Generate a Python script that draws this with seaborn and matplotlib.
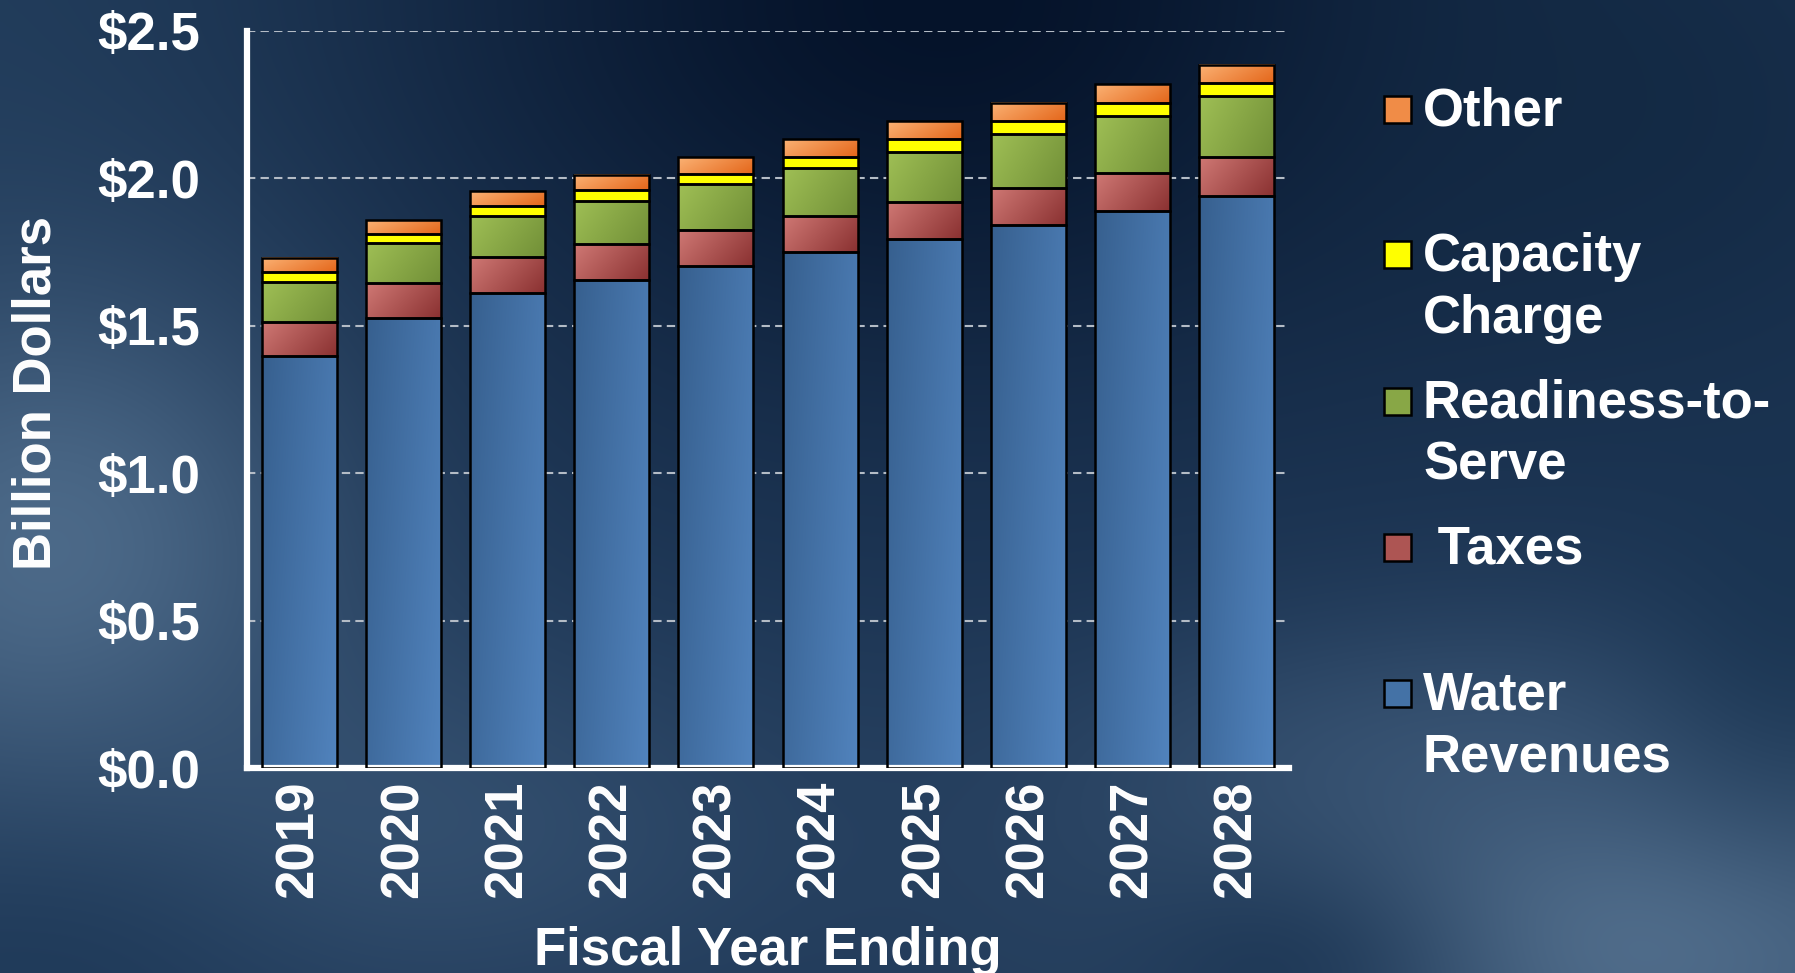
import numpy as np
import pandas as pd
import seaborn as sns
import matplotlib.pyplot as plt
from matplotlib.colors import LinearSegmentedColormap, to_rgb
from matplotlib.patches import Rectangle

sns.set_theme(style="white")
plt.rcParams["font.family"] = ["Liberation Sans", "DejaVu Sans"]
plt.rcParams["font.weight"] = "bold"
plt.rcParams["axes.labelweight"] = "bold"

# data (billion dollars)
years = ["2019", "2020", "2021", "2022", "2023", "2024", "2025", "2026", "2027", "2028"]
water = [1.396, 1.527, 1.612, 1.655, 1.703, 1.748, 1.793, 1.842, 1.889, 1.940]
taxes = [0.116, 0.117, 0.119, 0.120, 0.121, 0.124, 0.126, 0.126, 0.128, 0.130]
readiness = [0.135, 0.136, 0.140, 0.148, 0.155, 0.161, 0.170, 0.182, 0.195, 0.207]
capacity = [0.035, 0.032, 0.034, 0.035, 0.036, 0.039, 0.042, 0.042, 0.044, 0.045]
other = [0.048, 0.047, 0.050, 0.053, 0.055, 0.059, 0.061, 0.062, 0.062, 0.063]

# bottom to top: column, values, gradient start/end colour, legend lines
series = [
    ("Water Revenues", water, "#37608f", "#5183bd", ["Water", "Revenues"]),
    ("Taxes", taxes, "#cf7874", "#8a3131", [" Taxes"]),
    ("Readiness-to-Serve", readiness, "#9fbf55", "#718f37", ["Readiness-to-", "Serve"]),
    ("Capacity Charge", capacity, "#ffff00", "#ffff00", ["Capacity", "Charge"]),
    ("Other", other, "#fbb274", "#e4661a", ["Other"]),
]

df = pd.DataFrame({"year": years})
for name, vals, *_ in series:
    df[name] = vals

W, H = 1795, 973
fig = plt.figure(figsize=(W / 100, H / 100), dpi=100)

# background: dark blue sky
bg = fig.add_axes([0, 0, 1, 1], zorder=0)
yy, xx = np.mgrid[0:H:4, 0:W:4].astype(float)
img = np.ones(xx.shape + (3,)) * np.array(to_rgb("#1d3655"))
blobs = [
    (0, 0, 300, 250, "#24405f", 0.7),
    (950, 0, 380, 260, "#05132a", 1.0),
    (1650, 120, 250, 200, "#10263f", 0.6),
    (50, 560, 200, 200, "#52708f", 0.9),
    (380, 830, 300, 140, "#3c5979", 0.7),
    (1620, 930, 320, 160, "#5a7795", 0.9),
    (1450, 760, 260, 90, "#3c5878", 0.5),
    (1790, 640, 120, 150, "#15304d", 0.6),
    (1290, 970, 140, 90, "#0f2846", 0.6),
    (60, 960, 180, 110, "#1b3655", 0.6),
]
for cx, cy, sx, sy, col, a in blobs:
    wgt = a * np.exp(-((xx - cx) ** 2 / (2 * sx ** 2) + (yy - cy) ** 2 / (2 * sy ** 2)))
    img = img * (1 - wgt[..., None]) + np.array(to_rgb(col)) * wgt[..., None]
bg.imshow(img, aspect="auto", interpolation="bilinear")
bg.set_axis_off()

ax = fig.add_axes([247 / W, 1 - 768 / H, (1289 - 247) / W, (768 - 30.6) / H], zorder=1)
ax.patch.set_alpha(0)

nx, ny = np.meshgrid(np.linspace(0, 1, 40), np.linspace(0, 1, 40))
grad = 0.7 * nx + 0.3 * (1 - ny)

bottom = np.zeros(len(years))
for name, vals, c1, c2, _ in series:
    sns.barplot(data=df, x="year", y=name, ax=ax, bottom=bottom.copy(), width=0.72,
                color="white", saturation=1, errorbar=None, facecolor="none",
                edgecolor="black", linewidth=1.8, zorder=3)
    cmap = LinearSegmentedColormap.from_list(name, [c1, c2])
    for p in ax.containers[-1]:
        x0, y0 = p.get_xy()
        ax.imshow(grad, extent=(x0, x0 + p.get_width(), y0, y0 + p.get_height()),
                  cmap=cmap, vmin=0, vmax=1, origin="lower", aspect="auto",
                  interpolation="bilinear", zorder=2)
    bottom += np.array(vals)

ax.set_xlim(-0.5, len(years) - 0.5)
ax.set_ylim(0, 2.5)

ax.set_yticks(np.arange(0, 2.51, 0.5))
ax.set_yticklabels([f"${v:.1f}" for v in np.arange(0, 2.51, 0.5)])
ax.set_xticks(range(len(years)))
ax.set_xticklabels(years, rotation=90)
ax.set_xticks(np.arange(-0.5, len(years), 1), minor=True)
ax.tick_params(axis="y", colors="white", length=12, width=4, labelsize=38, pad=22, direction="out")
ax.tick_params(axis="x", which="major", length=0, pad=9, labelsize=38, labelcolor="white")
ax.tick_params(axis="x", which="minor", length=13, width=4, color="white", direction="out")

for s in ["top", "right"]:
    ax.spines[s].set_visible(False)
for s in ["left", "bottom"]:
    ax.spines[s].set_color("white")
    ax.spines[s].set_linewidth(4.5)

ax.yaxis.grid(True, color="#b4bcc6", linestyle=(0, (4, 2.5)), linewidth=1.5)
ax.xaxis.grid(False)
ax.set_axisbelow(True)

ax.set_xlabel("Fiscal Year Ending", fontsize=38, color="white", fontweight="bold")
ax.xaxis.set_label_coords(0.5, -0.248)
ax.xaxis.label.set_va("center")
ax.set_ylabel("Billion Dollars", fontsize=38, color="white", fontweight="bold",
              family=["Liberation Sans Narrow", "Liberation Sans"])
ax.yaxis.set_label_coords(-0.202, 0.508)
ax.yaxis.label.set_va("center")

# legend, top entry first
baselines = [125.3, 270.7, 417.2, 563.8, 709.3]
for b, (name, vals, c1, c2, lines) in zip(baselines, series[::-1]):
    for i, line in enumerate(lines):
        fig.text(1423 / W, 1 - (b + i * 62.7) / H, line, fontsize=38, color="white",
                 ha="left", va="baseline", fontweight="bold")
    mid = tuple((np.array(to_rgb(c1)) + np.array(to_rgb(c2))) / 2)
    fig.add_artist(Rectangle((1384 / W, 1 - (b - 2.5) / H), 27 / W, 27 / H,
                             transform=fig.transFigure, facecolor=mid,
                             edgecolor="black", linewidth=1.8))

fig.savefig("out.png", dpi=100)
